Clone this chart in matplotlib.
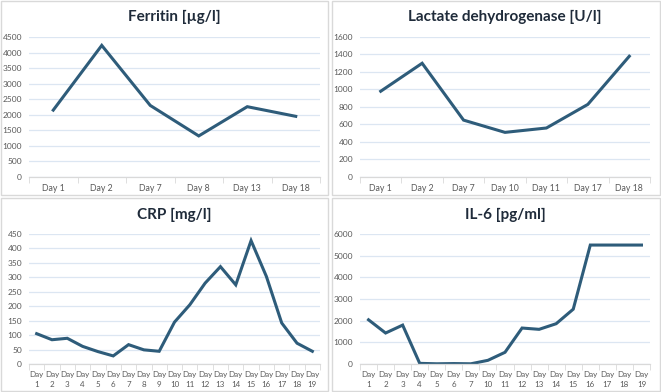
import numpy as np
import matplotlib
matplotlib.use("Agg")
import matplotlib.pyplot as plt
from matplotlib.patches import Rectangle

plt.rcParams['font.family'] = ['Lato', 'DejaVu Sans']

# ---------------- data ----------------
ferritin_days = ["Day 1", "Day 2", "Day 7", "Day 8", "Day 13", "Day 18"]
ferritin_vals = [2150, 4230, 2300, 1320, 2260, 1950]

ldh_days = ["Day 1", "Day 2", "Day 7", "Day 10", "Day 11", "Day 17", "Day 18"]
ldh_vals = [980, 1300, 650, 510, 560, 830, 1380]

crp_days = [f"Day\n{d}" for d in range(1, 20)]
crp_vals = [105, 84, 89, 61, 43, 28, 67, 49, 44, 145, 205, 280, 337, 274,
            427, 303, 142, 72, 44]

il6_day_nums = [1, 2, 3, 4, 5, 6, 7, 10, 11, 12, 13, 14, 15, 16, 17, 18, 19]
il6_days = [f"Day\n{d}" for d in il6_day_nums]
il6_vals = [2040, 1430, 1795, 30, 10, 20, 10, 170, 540, 1660, 1600, 1860,
            2530, 5490, 5490, 5490, 5490]

LINE = "#2E5C7A"
GRID = "#DCE6F2"
TXT = "#595959"

W, H = 661, 392
fig = plt.figure(figsize=(W / 100, H / 100), dpi=100)

# panel borders
for (x0, y0, x1, y1) in [(1, 1, 328, 195), (332, 1, 660, 195),
                         (1, 198, 328, 391), (332, 198, 660, 391)]:
    fig.patches.append(Rectangle((x0 / W, 1 - y1 / H), (x1 - x0) / W, (y1 - y0) / H,
                                 transform=fig.transFigure, fill=False,
                                 edgecolor="#D9D9D9", linewidth=1))


def panel(rect, labels, vals, ymax, step, title, title_y, xfs=6.3):
    ax = fig.add_axes(rect)
    n = len(labels)
    x = np.arange(n)
    ax.plot(x, vals, color=LINE, linewidth=2.2, solid_joinstyle="miter")
    ax.set_xlim(-0.5, n - 0.5)
    ax.set_ylim(0, ymax)
    ax.set_yticks(np.arange(0, ymax + 1, step))
    ax.set_xticks(x)
    ax.set_xticklabels(labels, fontsize=xfs, color=TXT, linespacing=1.5)
    ax.set_xticks(np.arange(-0.5, n, 1), minor=True)
    ax.tick_params(axis="x", which="major", length=0, pad=5)
    ax.tick_params(axis="x", which="minor", length=4, color="#D9D9D9", direction="out")
    ax.tick_params(axis="y", length=0, labelsize=6, labelcolor=TXT, pad=5)
    ax.grid(axis="y", color=GRID, linewidth=0.9)
    ax.set_axisbelow(True)
    for s in ["top", "right", "left"]:
        ax.spines[s].set_visible(False)
    ax.spines["bottom"].set_color("#D9D9D9")
    ax.spines["bottom"].set_linewidth(0.9)
    cx = rect[0] + rect[2] / 2
    fig.text(cx, title_y, title, ha="center", va="center", fontsize=11,
             fontweight="bold", color="#1F2B3A")
    return ax


top_b, top_h = 1 - 177 / H, (177 - 37) / H
bot_b, bot_h = 1 - 364 / H, (364 - 234) / H

panel([29 / W, top_b, 291 / W, top_h], ferritin_days, ferritin_vals, 4500, 500,
      "Ferritin [µg/l]", 1 - 17 / H)
panel([360 / W, top_b, 290 / W, top_h], ldh_days, ldh_vals, 1600, 200,
      "Lactate dehydrogenase [U/l]", 1 - 17 / H)
panel([29 / W, bot_b, 291 / W, bot_h], crp_days, crp_vals, 450, 50,
      "CRP [mg/l]", 1 - 215 / H, xfs=5.8)
panel([360 / W, bot_b, 290 / W, bot_h], il6_days, il6_vals, 6000, 1000,
      "IL-6 [pg/ml]", 1 - 215 / H, xfs=5.8)

fig.savefig("out.png", dpi=100)
